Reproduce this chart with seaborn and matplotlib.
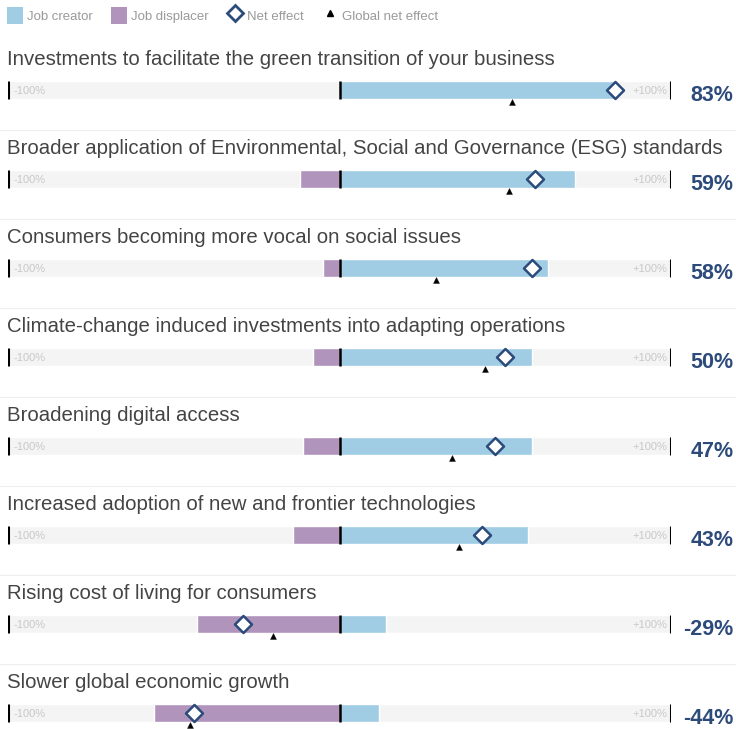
import numpy as np
import pandas as pd
import matplotlib.pyplot as plt
import seaborn as sns
from matplotlib.patches import Patch
from matplotlib.lines import Line2D

# data (percent)
drivers = [
    "Investments to facilitate the green transition of your business",
    "Broader application of Environmental, Social and Governance (ESG) standards",
    "Consumers becoming more vocal on social issues",
    "Climate-change induced investments into adapting operations",
    "Broadening digital access",
    "Increased adoption of new and frontier technologies",
    "Rising cost of living for consumers",
    "Slower global economic growth",
]
creator = [83, 71, 63, 58, 58, 57, 14, 12]
displacer = [0, 12, 5, 8, 11, 14, 43, 56]
net_effect = [83, 59, 58, 50, 47, 43, -29, -44]
global_net = [52, 51, 29, 44, 34, 36, -20, -45]

df = pd.DataFrame({
    "driver": drivers,
    "creator": creator,
    "displacer": [-d for d in displacer],
    "net": net_effect,
    "global": global_net,
})
df["pos"] = np.arange(len(df))
df["full_pos"] = 100
df["full_neg"] = -100

blue = "#a0cde4"
purple = "#b094bb"
navy = "#2c4b7b"
bg = "#f4f4f4"

sns.set_theme(style="white")
plt.rcParams['font.family'] = ['Liberation Sans', 'DejaVu Sans']

fig = plt.figure(figsize=(7.36, 7.29), dpi=100)
ax = fig.add_axes([8 / 736, 0, 663 / 736, 1])

bw = 0.2
sns.barplot(data=df, x="full_pos", y="driver", orient="h", color=bg, width=bw, ax=ax, saturation=1)
sns.barplot(data=df, x="full_neg", y="driver", orient="h", color=bg, width=bw, ax=ax, saturation=1)
sns.barplot(data=df, x="creator", y="driver", orient="h", color=blue, width=bw, ax=ax, saturation=1)
sns.barplot(data=df, x="displacer", y="driver", orient="h", color=purple, width=bw, ax=ax, saturation=1)

# zero and end markers
for i in df["pos"]:
    for xv, lw in [(-100, 2.2), (0, 1.8), (100, 2.2)]:
        ax.plot([xv, xv], [i - bw / 2, i + bw / 2], color="black", lw=lw, solid_capstyle="butt", zorder=4)
    ax.text(-98.2, i + 0.01, "-100%", color="#c8c8c8", fontsize=8, va="center", ha="left", zorder=5)
    ax.text(98.8, i + 0.01, "+100%", color="#c8c8c8", fontsize=8, va="center", ha="right", zorder=5)
    ax.text(-100.3, i - 0.34, df["driver"][i], color="#444444", fontsize=14.7, va="center", ha="left")
    ax.text(118.8, i + 0.065, f"{df['net'][i]}%", color=navy, fontsize=15.5, fontweight="bold",
            va="center", ha="right", clip_on=False)
    if i > 0:
        ax.axhline(i - 0.55, xmin=-0.02, xmax=1.2, color="#eeeeee", lw=0.8, clip_on=False, zorder=0)

sns.scatterplot(data=df, x="net", y="pos", marker="D", s=75, color="white",
                edgecolor=navy, linewidth=1.8, ax=ax, zorder=6)
sns.scatterplot(data=df, x="global", y="pos", marker="^", s=18, color="black",
                edgecolor="black", linewidth=0.3, ax=ax, zorder=6)
# triangles sit just below the bar
for coll in ax.collections[-1:]:
    offs = coll.get_offsets()
    offs[:, 1] = offs[:, 1] + 0.14
    coll.set_offsets(offs)

ax.set_xlim(-100, 100)
ax.set_ylim((729 - 90) / 89, -90 / 89)
ax.set_xlabel("")
ax.set_ylabel("")
ax.set_xticks([])
ax.set_yticks([])
sns.despine(ax=ax, left=True, bottom=True)

handles = [
    Patch(facecolor=blue, edgecolor="none", label="Job creator"),
    Patch(facecolor=purple, edgecolor="none", label="Job displacer"),
    Line2D([], [], marker="D", ls="none", markersize=8.5, markerfacecolor="white",
           markeredgecolor=navy, markeredgewidth=2, label="Net effect"),
    Line2D([], [], marker="^", ls="none", markersize=4, color="black", label="Global net effect"),
]
fig.legend(handles=handles, loc="upper left", bbox_to_anchor=(-0.003, 1.003), ncol=4, frameon=False,
           fontsize=9.5, labelcolor="#9a9a9a", handlelength=1.2, handleheight=1.6,
           handletextpad=0.3, columnspacing=1.4, borderaxespad=0.3)

fig.savefig("out.png", dpi=100)
